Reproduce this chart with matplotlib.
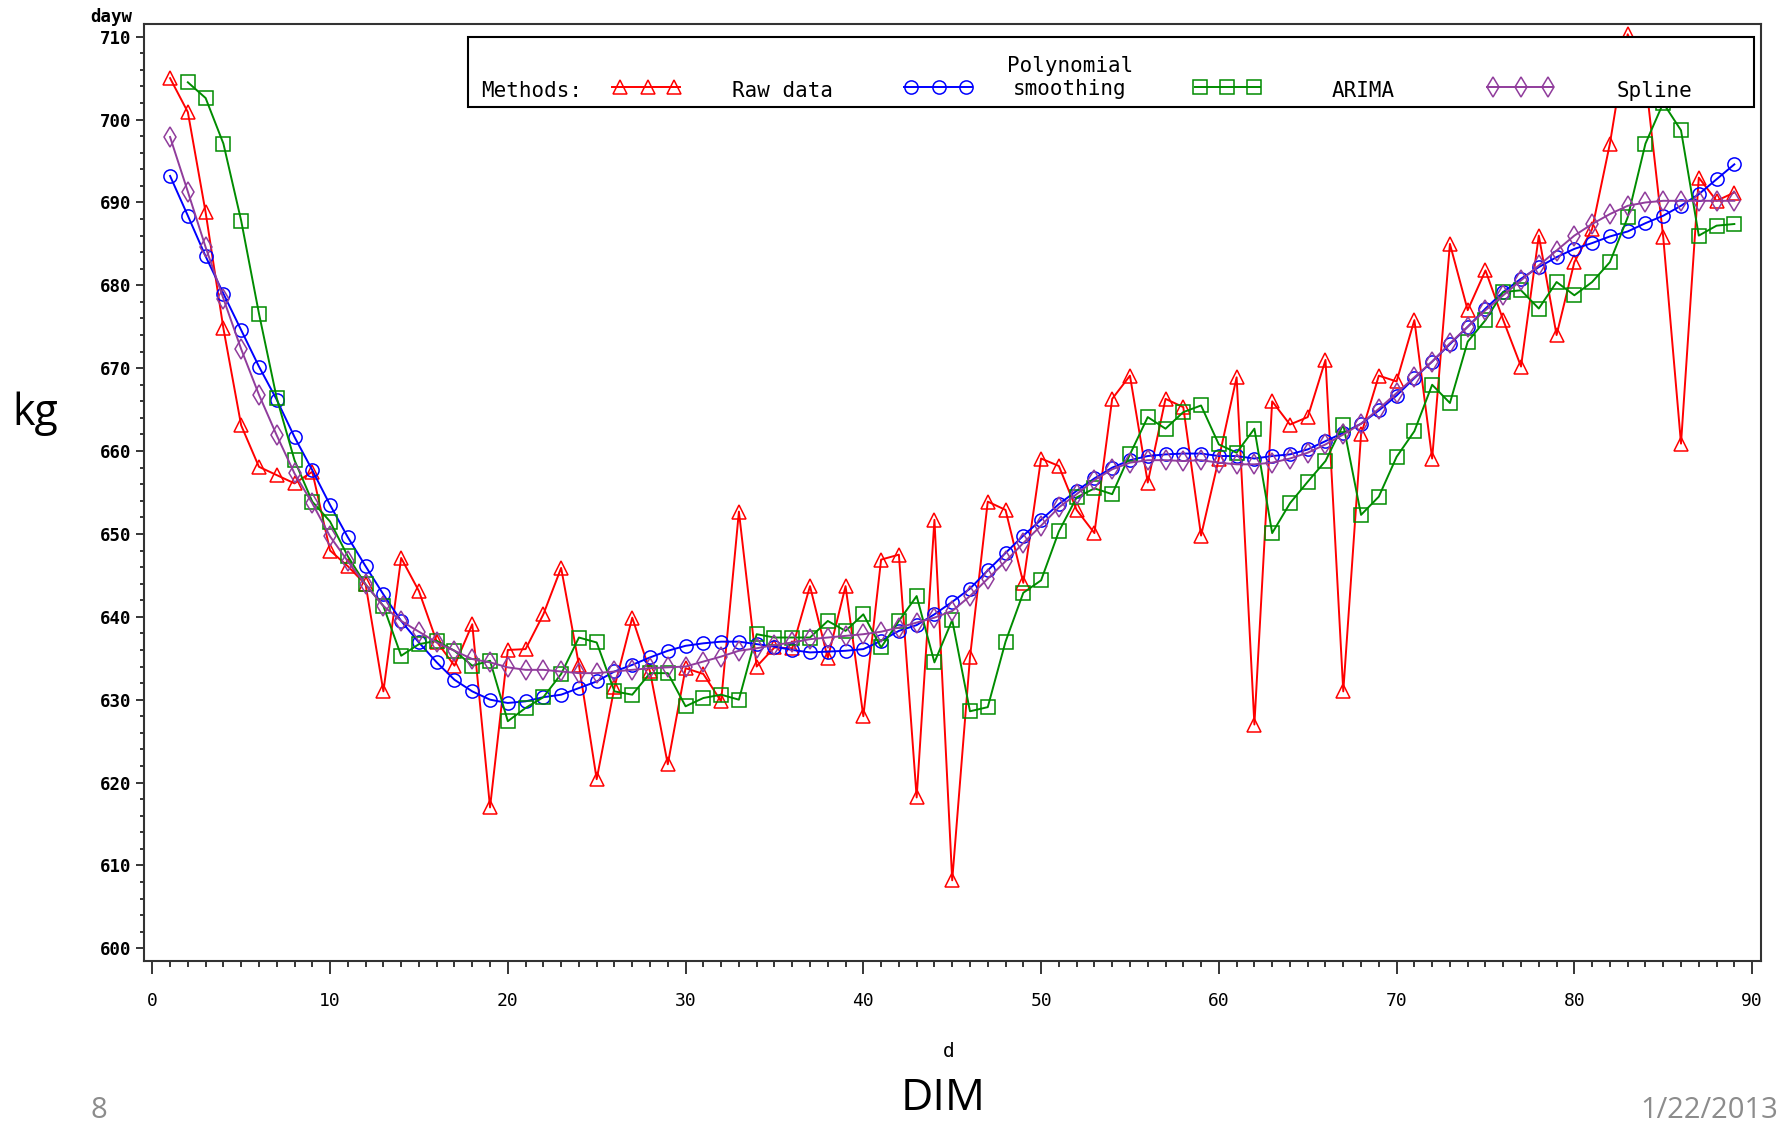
import numpy as np
import matplotlib
matplotlib.use("Agg")
import matplotlib.pyplot as plt
from matplotlib.lines import Line2D
from matplotlib.patches import Rectangle
from matplotlib.ticker import MultipleLocator

# ---------------- data ----------------
days = np.arange(1, 90)
arima_days = np.arange(2, 90)

raw_data = [705.0, 700.9, 688.8, 674.8, 663.1, 658.1, 657.1, 656.1, 657.5, 648.0,
            646.1, 643.9, 631.0, 647.1, 643.1, 637.0, 634.1, 639.1, 617.0, 636.0,
            636.1, 640.3, 645.9, 634.2, 620.4, 631.5, 639.9, 633.4, 622.2, 633.8,
            633.1, 629.8, 652.7, 634.0, 636.3, 636.2, 643.7, 635.0, 643.7, 628.0,
            646.9, 647.5, 618.2, 651.7, 608.2, 635.1, 653.9, 652.9, 644.1, 659.1,
            658.2, 652.9, 650.1, 666.3, 669.1, 656.2, 666.3, 665.3, 649.8, 659.1,
            668.9, 627.0, 666.0, 663.2, 664.1, 671.0, 631.0, 662.0, 669.1, 668.4,
            675.8, 659.1, 685.0, 677.0, 681.8, 675.8, 670.2, 686.0, 674.0, 682.8,
            686.8, 697.1, 710.3, 705.0, 685.8, 660.9, 693.0, 690.2, 691.2]

polynomial = [693.2, 688.4, 683.5, 679.0, 674.6, 670.2, 666.2, 661.7, 657.7, 653.5,
              649.6, 646.1, 642.7, 639.5, 636.9, 634.5, 632.4, 631.0, 630.0, 629.6,
              629.8, 630.3, 630.6, 631.4, 632.2, 633.4, 634.2, 635.1, 635.9, 636.5,
              636.8, 637.0, 637.0, 636.7, 636.4, 636.0, 635.7, 635.8, 635.9, 636.1,
              637.1, 638.3, 639.0, 640.3, 641.8, 643.4, 645.6, 647.7, 649.8, 651.7,
              653.6, 655.2, 656.7, 658.0, 658.9, 659.4, 659.6, 659.7, 659.7, 659.4,
              659.4, 659.1, 659.4, 659.6, 660.2, 661.2, 662.2, 663.3, 664.9, 666.7,
              668.8, 670.8, 672.9, 675.0, 677.2, 679.2, 680.8, 682.2, 683.4, 684.4,
              685.1, 685.9, 686.5, 687.5, 688.4, 689.6, 691.0, 692.8, 694.6]

arima = [704.5, 702.6, 697.1, 687.8, 676.6, 666.4, 658.9, 653.9, 651.5,
         647.3, 643.9, 641.3, 635.3, 636.7, 637.1, 635.9, 634.1, 634.7, 627.4,
         629.0, 630.3, 633.1, 637.5, 636.9, 631.0, 630.6, 633.2, 633.2, 629.2,
         630.2, 630.6, 630.0, 637.9, 637.5, 637.5, 637.5, 639.5, 638.3, 640.3,
         636.3, 639.5, 642.5, 634.5, 639.6, 628.6, 629.1, 637.0, 642.9, 644.4,
         650.3, 654.4, 655.5, 654.8, 659.6, 664.1, 662.7, 664.7, 665.5, 660.8,
         659.8, 662.7, 650.1, 653.7, 656.3, 658.8, 663.2, 652.3, 654.5, 659.3,
         662.4, 668.0, 665.8, 673.2, 675.8, 679.2, 679.4, 677.2, 680.4, 678.8,
         680.4, 682.8, 688.2, 697.1, 702.0, 698.7, 686.0, 687.2, 687.4]

spline = [697.9, 691.3, 684.6, 678.4, 672.3, 666.8, 661.9, 657.3, 653.7, 649.7,
          646.7, 643.9, 641.3, 639.5, 638.2, 636.9, 635.9, 634.9, 634.5, 633.9,
          633.6, 633.6, 633.4, 633.2, 633.2, 633.4, 633.6, 633.8, 633.9, 634.0,
          634.6, 635.2, 635.9, 636.2, 636.6, 636.9, 637.3, 637.5, 637.7, 637.9,
          638.2, 638.7, 639.3, 639.9, 640.7, 642.5, 644.6, 646.7, 648.9, 651.0,
          653.2, 654.8, 656.5, 657.8, 658.6, 658.9, 658.9, 658.8, 658.9, 658.6,
          658.4, 658.4, 658.6, 659.1, 659.8, 660.8, 662.0, 663.3, 665.1, 667.0,
          668.9, 670.8, 673.0, 675.0, 677.0, 678.8, 680.6, 682.4, 684.2, 686.0,
          687.4, 688.6, 689.6, 690.0, 690.2, 690.2, 690.2, 690.2, 690.2]

x_ticks = [0, 10, 20, 30, 40, 50, 60, 70, 80, 90]
x_tick_labels = ["0", "10", "20", "30", "40", "50", "60", "70", "80", "90"]
y_ticks = [600, 610, 620, 630, 640, 650, 660, 670, 680, 690, 700, 710]
y_tick_labels = ["600", "610", "620", "630", "640", "650", "660", "670", "680", "690", "700", "710"]

legend_labels = ["Raw data", "Polynomial\nsmoothing", "ARIMA", "Spline"]

# ---------------- style ----------------
RED = "#ff0000"
BLUE = "#0000ff"
GREEN = "#008c00"
PURPLE = "#903c9c"
MONO = "DejaVu Sans Mono"
SANS = "Open Sans"
W, H = 1782.0, 1123.0

def fx(x):
    return x / W

def fy(y):
    return 1 - y / H

fig = plt.figure(figsize=(17.82, 11.23), dpi=100)
ax = fig.add_axes([fx(144.3), fy(960.7), (1761 - 144.3) / W, (960.7 - 24.3) / H])

lw, mew = 1.4, 1.1
ax.plot(days, raw_data, color=RED, lw=lw, marker="^", ms=10.5, mfc="none", mec=RED, mew=mew, zorder=3)
ax.plot(days, polynomial, color=BLUE, lw=lw, marker="o", ms=9.5, mfc="none", mec=BLUE, mew=mew, zorder=3)
ax.plot(arima_days, arima, color=GREEN, lw=lw, marker="s", ms=10.5, mfc="none", mec=GREEN, mew=mew, zorder=3)
ax.plot(days, spline, color=PURPLE, lw=lw, marker="d", ms=10.5, mfc="none", mec=PURPLE, mew=mew, zorder=3)

ax.set_xlim(-0.45, 90.5)
ax.set_ylim(598.5, 711.5)

ax.set_xticks(x_ticks, labels=x_tick_labels, fontfamily=MONO, fontsize=13)
ax.set_yticks(y_ticks, labels=y_tick_labels, fontfamily=MONO, fontsize=12.5, fontweight="bold")
ax.xaxis.set_minor_locator(MultipleLocator(1))
ax.yaxis.set_minor_locator(MultipleLocator(2))
ax.tick_params(axis="x", which="major", direction="out", length=9.4, width=1.1, pad=13)
ax.tick_params(axis="x", which="minor", direction="out", length=4.6, width=1.1)
ax.tick_params(axis="y", which="major", direction="out", length=5.6, width=1.1, pad=3.5)
ax.tick_params(axis="y", which="minor", direction="out", length=3.2, width=1.1)
ax.tick_params(top=False, right=False, which="both")
for sp in ax.spines.values():
    sp.set_linewidth(1.5)
    sp.set_color("#333333")

# axis labels in SAS style
fig.text(fx(949), fy(1057), "d", ha="center", va="baseline", fontfamily=MONO, fontsize=14)
fig.text(fx(132), fy(21.5), "dayw", ha="right", va="baseline", fontfamily=MONO, fontsize=12.5, fontweight="bold")

# slide annotations
fig.text(fx(35), fy(425), "kg", ha="center", va="baseline", fontfamily=SANS, fontsize=31)
fig.text(fx(943), fy(1121), "DIM", ha="center", va="bottom", fontfamily=SANS, fontsize=32)
fig.text(fx(98.5), fy(1118), "8", ha="center", va="baseline", fontfamily=SANS, fontsize=21, color="#8c8c8c")
fig.text(fx(1778), fy(1118), "1/22/2013", ha="right", va="baseline", fontfamily=SANS, fontsize=21, color="#8c8c8c")

# ---------------- legend box ----------------
fig.add_artist(Rectangle((fx(468), fy(107)), fx(1754) - fx(468), fy(37.3) - fy(107),
                         transform=fig.transFigure, facecolor="white", edgecolor="black",
                         linewidth=1.5, zorder=5))
base = fy(97)
fig.text(fx(481), base, "Methods:", ha="left", va="baseline", fontfamily=MONO, fontsize=15, zorder=6)

samples = [
    (RED, "^", 10.5, (612, 680), (620.4, 647.6, 673.9)),
    (BLUE, "o", 9.5, (904, 972), (910.8, 938.8, 966.0)),
    (GREEN, "s", 10.5, (1195, 1260), (1200.4, 1226.8, 1253.9)),
    (PURPLE, "d", 10.5, (1487, 1553), (1492.5, 1521.3, 1547.7)),
]
ly = fy(86.7)
for color, mk, ms, (x0, x1), mxs in samples:
    fig.add_artist(Line2D([fx(x0), fx(x1)], [ly, ly], color=color, lw=lw,
                          transform=fig.transFigure, zorder=6))
    fig.add_artist(Line2D([fx(m) for m in mxs], [ly] * 3, color=color, lw=0, marker=mk, ms=ms,
                          mfc="none", mec=color, mew=mew, transform=fig.transFigure, zorder=6))

fig.text(fx(731.5), base, legend_labels[0], ha="left", va="baseline", fontfamily=MONO, fontsize=15, zorder=6)
poly_top, poly_bottom = legend_labels[1].split("\n")
fig.text(fx(1070), fy(72), poly_top, ha="center", va="baseline", fontfamily=MONO, fontsize=15, zorder=6)
fig.text(fx(1070), fy(95), poly_bottom, ha="center", va="baseline", fontfamily=MONO, fontsize=15, zorder=6)
fig.text(fx(1332), base, legend_labels[2], ha="left", va="baseline", fontfamily=MONO, fontsize=15, zorder=6)
fig.text(fx(1617), base, legend_labels[3], ha="left", va="baseline", fontfamily=MONO, fontsize=15, zorder=6)

fig.savefig("out.png", dpi=100)
